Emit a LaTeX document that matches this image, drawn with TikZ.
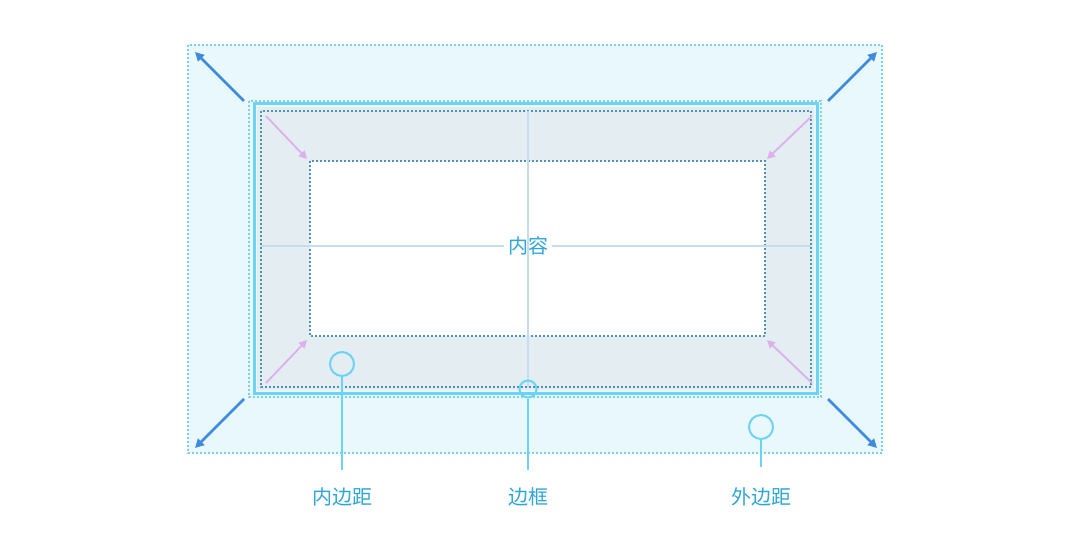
\documentclass[tikz,border=0pt]{standalone}
\usepackage{fontspec}
\newfontfamily\cjk{Noto Sans CJK SC}
\usetikzlibrary{arrows.meta}
\definecolor{marginfill}{HTML}{E9F8FD}
\definecolor{padfill}{HTML}{E3EDF2}
\definecolor{dotblue}{HTML}{7FCFEA}
\definecolor{dotdark}{HTML}{4F93B3}
\definecolor{bordercol}{HTML}{6DD3F5}
\definecolor{crosscol}{HTML}{C5DDEE}
\definecolor{arrowblue}{HTML}{3E8BDB}
\definecolor{arrowpink}{HTML}{DDB0EC}
\definecolor{labelcol}{HTML}{2FA6D6}
\tikzset{
  dotline/.style={dotted, line width=2pt},
  bigarrow/.style={arrowblue, line width=2.5pt, -{Triangle[length=9pt,width=9pt]}},
  smallarrow/.style={arrowpink, line width=1.8pt, -{Triangle[length=8pt,width=8pt]}},
  marker/.style={circle, draw=bordercol, line width=2pt, fill=none},
  pin/.style={bordercol, line width=2pt},
  boxlabel/.style={labelcol, font=\cjk\fontsize{20}{24}\selectfont}
}
\begin{document}
\begin{tikzpicture}[x=1pt,y=-1pt]
    \useasboundingbox[fill=white] (0,0) rectangle (1080,540);

    % Margin
    \fill[marginfill] (188,45) rectangle (882,453);
    \draw[dotline, dotblue] (188,45) rectangle (882,453);
    \draw[dotline, dotblue] (249,101) rectangle (821,397);

    % Border and padding
    \fill[padfill] (257,107) rectangle (814,390);
    \draw[bordercol, line width=3pt] (254,104) rectangle (817,393);
    \draw[dotline, dotdark] (261,111) rectangle (811,387);

    % Content
    \fill[white] (310,161) rectangle (765,336);
    \draw[dotline, dotdark] (310,161) rectangle (765,336);

    % Cross lines
    \node[boxlabel] (content) at (528,246) {内容};
    \coordinate (ctop) at (528,111);
    \coordinate (cbot) at (528,387);
    \coordinate (cleft) at (261,246);
    \coordinate (cright) at (811,246);
    \draw[crosscol, line width=1.5pt] (ctop) -- (cbot);
    \draw[crosscol, line width=1.5pt] (cleft) -- (content.west);
    \draw[crosscol, line width=1.5pt] (content.east) -- (cright);

    % Margin arrows
    \draw[bigarrow] (244,101) -- (195,52);
    \draw[bigarrow] (828,101) -- (877,52);
    \draw[bigarrow] (244,399) -- (195,448);
    \draw[bigarrow] (828,399) -- (877,448);

    % Padding arrows
    \draw[smallarrow] (266,116) -- (307,159);
    \draw[smallarrow] (812,116) -- (767,159);
    \draw[smallarrow] (266,383) -- (307,340);
    \draw[smallarrow] (812,383) -- (767,340);

    % Markers and labels
    \node[marker, minimum size=24pt, inner sep=0pt] (padmark) at (342,364) {};
    \node[marker, minimum size=17pt, inner sep=0pt] (bordermark) at (528,389) {};
    \node[marker, minimum size=24pt, inner sep=0pt] (marginmark) at (761,427) {};
    \coordinate (padend) at (342,470);
    \coordinate (borderend) at (528,470);
    \coordinate (marginend) at (761,467);
    \draw[pin] (padmark.south) -- (padend);
    \draw[pin] (bordermark.south) -- (borderend);
    \draw[pin] (marginmark.south) -- (marginend);
    \node[boxlabel] (padlabel) at (342,497) {内边距};
    \node[boxlabel] (borderlabel) at (528,497) {边框};
    \node[boxlabel] (marginlabel) at (761,497) {外边距};
\end{tikzpicture}
\end{document}
